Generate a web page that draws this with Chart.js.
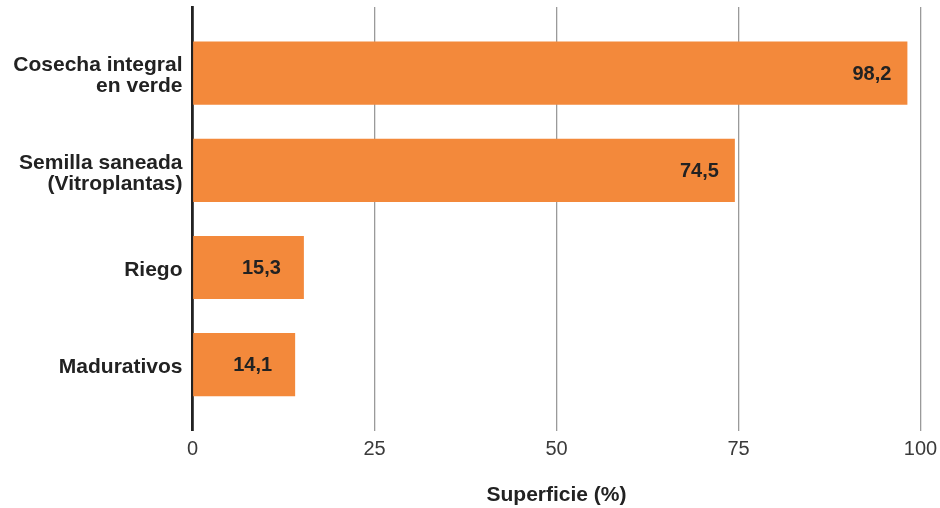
<!DOCTYPE html>
<html>
<head>
<meta charset="utf-8">
<script src="https://cdn.jsdelivr.net/npm/chart.js@4/dist/chart.umd.min.js"></script>
<style>
  html, body { margin: 0; padding: 0; background: #ffffff; }
  #wrap { width: 940px; height: 508px; }
</style>
</head>
<body>
<div id="wrap"><canvas id="c" width="940" height="508"></canvas></div>
<script>
const categories = [
  ["Cosecha integral", "en verde"],
  ["Semilla saneada", "(Vitroplantas)"],
  ["Riego"],
  ["Madurativos"]
];
const values = [98.2, 74.5, 15.3, 14.1];
const xTicks = [0, 25, 50, 75, 100];
const axisTitle = "Superficie (%)";

const FONT = "'Liberation Sans', Arial, Helvetica, sans-serif";
const BAR = '#f3893b';
const TEXT = '#222222';

const valueLabels = {
  id: 'valueLabels',
  afterDatasetsDraw(chart) {
    const ctx = chart.ctx;
    const meta = chart.getDatasetMeta(0);
    ctx.save();
    ctx.font = "bold 20px " + FONT;
    ctx.fillStyle = TEXT;
    ctx.textAlign = 'right';
    ctx.textBaseline = 'middle';
    meta.data.forEach((bar, i) => {
      const v = values[i];
      const w = bar.x - bar.base;
      const off = w > 300 ? 16 : 23;
      ctx.fillText(v.toFixed(1).replace('.', ','), bar.x - off, bar.y + 1);
    });
    ctx.restore();
  }
};

new Chart(document.getElementById('c'), {
  type: 'bar',
  data: {
    datasets: [{
      data: values.map((v, i) => ({ x: v, y: i })),
      backgroundColor: BAR,
      borderWidth: 0,
      categoryPercentage: 1,
      barPercentage: 0.65
    }]
  },
  options: {
    indexAxis: 'y',
    responsive: false,
    animation: false,
    layout: { padding: { top: 7, right: 19.5, left: 0, bottom: 0 } },
    plugins: { legend: { display: false }, tooltip: { enabled: false } },
    scales: {
      y: {
        type: 'linear',
        reverse: true,
        offset: false,
        min: -0.68,
        max: 3.68,
        afterBuildTicks(scale) {
          scale.ticks = categories.map((c, i) => ({ value: i }));
        },
        afterFit(scale) {
          scale.width = 192.5;
          scale.paddingTop = 0;
          scale.paddingBottom = 0;
        },
        grid: { display: false, drawTicks: false },
        border: { display: true, color: '#222222', width: 2.8 },
        ticks: {
          padding: 10,
          labelOffset: 3,
          color: TEXT,
          font: { family: FONT, size: 21, weight: 'bold', lineHeight: 1.0 },
          callback: (v) => categories[v]
        }
      },
      x: {
        type: 'linear',
        min: xTicks[0],
        max: xTicks[xTicks.length - 1],
        afterBuildTicks(scale) {
          scale.ticks = xTicks.map(v => ({ value: v }));
        },
        afterFit(scale) {
          scale.paddingLeft = 0;
          scale.paddingRight = 0;
        },
        grid: {
          drawTicks: false,
          color: (ctx) => (ctx.tick && ctx.tick.value === 0) ? 'rgba(0,0,0,0)' : '#9a9a9a',
          lineWidth: 1.3
        },
        border: { display: false },
        ticks: {
          padding: 7,
          color: '#3a3a3a',
          font: { family: FONT, size: 20, weight: 'normal' },
          callback: (v) => String(v)
        },
        title: {
          display: true,
          text: axisTitle,
          color: TEXT,
          font: { family: FONT, size: 21, weight: 'bold' },
          padding: { top: 14, bottom: 0 }
        }
      }
    }
  },
  plugins: [valueLabels]
});
</script>
</body>
</html>
